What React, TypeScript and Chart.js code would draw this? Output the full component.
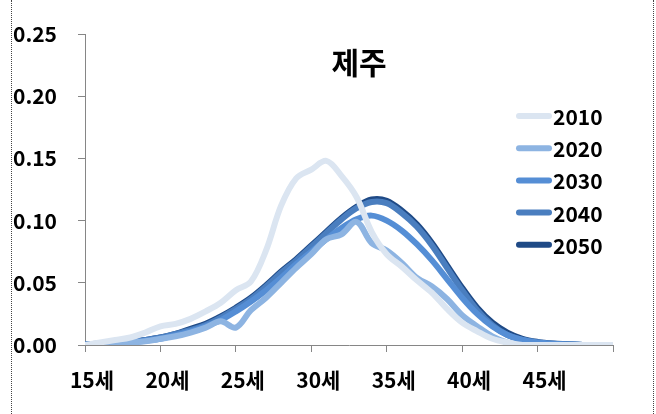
import React, { useEffect, useRef } from "react";
import { Chart, registerables } from "chart.js";

Chart.register(...registerables);

const TITLE = "제주";
const AGE_SUFFIX = "세";

const ages = [15, 16, 17, 18, 19, 20, 21, 22, 23, 24, 25, 26, 27, 28, 29, 30, 31, 32, 33, 34, 35, 36, 37, 38, 39, 40, 41, 42, 43, 44, 45, 46, 47, 48, 49, 50];

const seriesLabels = ["2010", "2020", "2030", "2040", "2050"];

const s2010 = [0.000, 0.002, 0.004, 0.006, 0.010, 0.015, 0.017, 0.021, 0.027, 0.034, 0.044, 0.051, 0.076, 0.112, 0.134, 0.141, 0.148, 0.136, 0.119, 0.091, 0.073, 0.063, 0.052, 0.042, 0.029, 0.018, 0.011, 0.005, 0.002, 0.000, 0.000, 0.000, 0.000, 0.000, 0.000, 0.000];
const s2020 = [0.000, 0.0005, 0.001, 0.002, 0.003, 0.005, 0.007, 0.010, 0.014, 0.019, 0.014, 0.028, 0.038, 0.050, 0.062, 0.073, 0.085, 0.089, 0.099, 0.082, 0.076, 0.066, 0.054, 0.047, 0.037, 0.024, 0.015, 0.007, 0.002, 0.000, 0.000, 0.000, 0.000, 0.000, 0.000, 0.000];
const s2030 = [0.0003, 0.0008, 0.0013, 0.002, 0.0035, 0.005, 0.008, 0.011, 0.015, 0.020, 0.027, 0.035, 0.044, 0.054, 0.065, 0.075, 0.085, 0.094, 0.101, 0.104, 0.100, 0.092, 0.081, 0.068, 0.053, 0.038, 0.025, 0.015, 0.008, 0.004, 0.002, 0.001, 0.0005, 0.000, 0.000, 0.000];
const s2040 = [0.0004, 0.001, 0.0015, 0.0025, 0.004, 0.006, 0.009, 0.012, 0.016, 0.022, 0.029, 0.037, 0.047, 0.058, 0.068, 0.079, 0.090, 0.101, 0.110, 0.115, 0.114, 0.106, 0.095, 0.080, 0.062, 0.044, 0.028, 0.016, 0.008, 0.004, 0.002, 0.001, 0.0005, 0.000, 0.000, 0.000];
const s2050 = [0.0005, 0.001, 0.0015, 0.0025, 0.004, 0.006, 0.009, 0.013, 0.017, 0.023, 0.030, 0.038, 0.048, 0.059, 0.069, 0.080, 0.091, 0.102, 0.111, 0.117, 0.116, 0.108, 0.097, 0.082, 0.064, 0.046, 0.030, 0.018, 0.010, 0.005, 0.0025, 0.0012, 0.0006, 0.000, 0.000, 0.000];

const seriesValues = [s2010, s2020, s2030, s2040, s2050];
const seriesColors = ["#dbe5f1", "#8db4e2", "#558ed5", "#4a7ebf", "#1f4a86"];

const yTicks = [0, 0.05, 0.1, 0.15, 0.2, 0.25];
const xTicks = [15, 20, 25, 30, 35, 40, 45, 50];
const xLabeled = [15, 20, 25, 30, 35, 40, 45];

const FONT = "'Noto Sans CJK KR', 'Noto Sans', sans-serif";

const overlayPlugin = {
  id: "overlay",
  afterDraw(chart: any) {
    const ctx = chart.ctx as CanvasRenderingContext2D;
    ctx.save();
    ctx.fillStyle = "#000";
    ctx.font = `bold 30px ${FONT}`;
    ctx.textAlign = "center";
    ctx.textBaseline = "middle";
    ctx.fillText(TITLE, 359, 63);
    ctx.font = `bold 21px ${FONT}`;
    ctx.textAlign = "left";
    chart.data.datasets.forEach((ds: any, i: number) => {
      const y = 116 + i * 32.2;
      ctx.strokeStyle = ds.borderColor;
      ctx.lineWidth = 6;
      ctx.lineCap = "round";
      ctx.beginPath();
      ctx.moveTo(519, y);
      ctx.lineTo(549, y);
      ctx.stroke();
      ctx.fillStyle = "#000";
      ctx.fillText(ds.label, 553, y + 1);
    });
    ctx.restore();
  },
};

export default function App() {
  const ref = useRef<HTMLCanvasElement>(null);

  useEffect(() => {
    if (!ref.current) return;
    const chart = new Chart(ref.current, {
      type: "line",
      data: {
        datasets: seriesLabels.map((label, i) => ({
          label,
          data: ages.map((a, j) => ({ x: a, y: seriesValues[i][j] })),
          borderColor: seriesColors[i],
          backgroundColor: seriesColors[i],
          borderWidth: 6,
          pointRadius: 0,
          fill: false,
          tension: 0.35,
          borderCapStyle: "round" as const,
          borderJoinStyle: "round" as const,
        })),
      },
      options: {
        responsive: false,
        animation: false,
        layout: { padding: { top: 34, right: 43, bottom: 0, left: 0 } },
        plugins: { legend: { display: false }, tooltip: { enabled: false }, title: { display: false } },
        scales: {
          x: {
            type: "linear",
            min: 15,
            max: 50,
            afterBuildTicks: (scale: any) => {
              scale.ticks = xTicks.map((v) => ({ value: v }));
            },
            afterFit: (scale: any) => {
              scale.height = 69;
              scale.paddingLeft = 0;
              scale.paddingRight = 0;
            },
            ticks: {
              autoSkip: false,
              maxRotation: 0,
              labelOffset: 7,
              padding: 15,
              color: "#000",
              font: { family: FONT, size: 21, weight: "bold" },
              callback: (v: any) => (xLabeled.includes(Number(v)) ? `${v}${AGE_SUFFIX}` : ""),
            },
            grid: { drawOnChartArea: false, drawTicks: true, tickLength: 7, color: "#868686", lineWidth: 1 },
            border: { display: true, color: "#868686", width: 1 },
          },
          y: {
            type: "linear",
            min: 0,
            max: 0.25,
            afterBuildTicks: (scale: any) => {
              scale.ticks = yTicks.map((v) => ({ value: v }));
            },
            afterFit: (scale: any) => {
              scale.width = 85;
              scale.paddingTop = 0;
              scale.paddingBottom = 0;
            },
            ticks: {
              padding: 21,
              color: "#000",
              font: { family: FONT, size: 21, weight: "bold" },
              callback: (v: any) => Number(v).toFixed(2),
            },
            grid: { drawOnChartArea: false, drawTicks: true, tickLength: 7, color: "#868686", lineWidth: 1 },
            border: { display: true, color: "#868686", width: 1 },
          },
        },
      },
      plugins: [overlayPlugin],
    });
    return () => chart.destroy();
  }, []);

  return (
    <div style={{ position: "fixed", left: 0, top: 0, width: 656, height: 414, background: "#fff" }}>
      <div style={{ position: "absolute", left: 11, top: 0, width: 0, height: 414, borderLeft: "1px dotted #444" }} />
      <div style={{ position: "absolute", left: 653, top: 0, width: 0, height: 414, borderLeft: "1px dotted #444" }} />
      <canvas ref={ref} width={656} height={414} style={{ position: "absolute", left: 0, top: 0 }} />
    </div>
  );
}
